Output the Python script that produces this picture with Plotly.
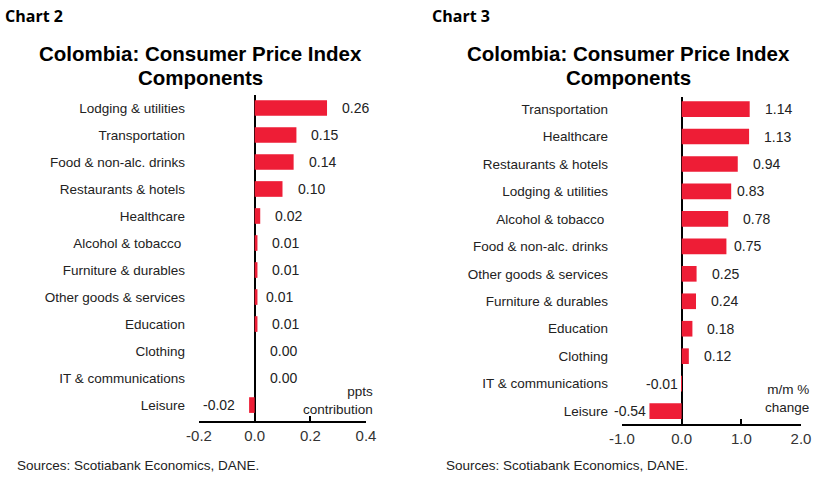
import plotly.graph_objects as go

# Chart 2: contribution (ppts)
cats_contrib = ["Lodging & utilities", "Transportation", "Food & non-alc. drinks",
                "Restaurants & hotels", "Healthcare", "Alcohol & tobacco ",
                "Furniture & durables", "Other goods & services", "Education",
                "Clothing", "IT & communications", "Leisure"]
vals_contrib = [0.26, 0.15, 0.14, 0.10, 0.02, 0.01, 0.01, 0.01, 0.01, 0.00, 0.00, -0.02]
ticks_contrib = [-0.2, 0.0, 0.2, 0.4]

# Chart 3: m/m % change
cats_mm = ["Transportation", "Healthcare", "Restaurants & hotels", "Lodging & utilities",
           "Alcohol & tobacco ", "Food & non-alc. drinks", "Other goods & services",
           "Furniture & durables", "Education", "Clothing", "IT & communications", "Leisure"]
vals_mm = [1.14, 1.13, 0.94, 0.83, 0.78, 0.75, 0.25, 0.24, 0.18, 0.12, -0.01, -0.54]
ticks_mm = [-1.0, 0.0, 1.0, 2.0]

RED = "#EE1D36"
FONT = "Liberation Sans"
W, H = 828, 482


def px(x):
    return x / W


def py(y):
    return 1 - y / H


fig = go.Figure()

fig.add_trace(go.Bar(x=vals_contrib, y=cats_contrib, orientation="h", width=0.58,
                     marker=dict(color=RED, line=dict(width=0)),
                     xaxis="x", yaxis="y", showlegend=False, hoverinfo="skip"))
fig.add_trace(go.Bar(x=vals_mm, y=cats_mm, orientation="h", width=0.57,
                     marker=dict(color=RED, line=dict(width=0)),
                     xaxis="x2", yaxis="y2", showlegend=False, hoverinfo="skip"))


def xax(dom, rng, ticks, anchor):
    return dict(domain=dom, range=rng, anchor=anchor, tickvals=ticks,
                ticktext=["%.1f" % t for t in ticks], automargin=False,
                showline=True, linecolor="black", linewidth=2,
                ticks="inside", ticklen=5, tickwidth=2, tickcolor="black",
                showgrid=False, zeroline=True, zerolinecolor="black", zerolinewidth=2,
                tickfont=dict(family=FONT, size=15, color="#333333"), fixedrange=True)


def yax(dom, rng, anchor):
    return dict(domain=dom, range=rng, anchor=anchor, showgrid=False, showline=False,
                ticks="", ticklabelstandoff=13, zeroline=False, automargin=False,
                tickfont=dict(family=FONT, size=13.5, color="#222222"), fixedrange=True)


fig.update_layout(
    width=W, height=H, margin=dict(l=0, r=0, t=0, b=0, pad=0, autoexpand=False),
    plot_bgcolor="white", paper_bgcolor="white",
    xaxis=xax([px(199), px(366)], [-0.2, 0.4], ticks_contrib, "y"),
    yaxis=yax([py(421), py(95)], [11.59, -0.48], "x"),
    xaxis2=xax([px(622), px(801)], [-1.0, 2.0], ticks_mm, "y2"),
    yaxis2=yax([py(424), py(97)], [11.47, -0.44], "x2"),
)

ann = []


def labels(cats, vals, xref, yref, pos_gap, neg_gap, overrides):
    for i, (c, v) in enumerate(zip(cats, vals)):
        neg = v < 0
        shift = overrides.get(i, -neg_gap if neg else pos_gap)
        ann.append(dict(x=v, y=c, xref=xref, yref=yref, text="%.2f" % v,
                        showarrow=False, xanchor="right" if neg else "left",
                        xshift=shift, font=dict(family=FONT, size=14, color="#222222")))


labels(cats_contrib, vals_contrib, "x", "y", 13, 12, {7: 7})
labels(cats_mm, vals_mm, "x2", "y2", 13, 1, {3: 4, 5: 6})

# headers, titles, units, sources
for cx in [200, 628]:
    ann.append(dict(x=px(cx), y=py(53), xref="paper", yref="paper",
                    text="<b>Colombia: Consumer Price Index</b>", showarrow=False,
                    xanchor="center", yanchor="middle",
                    font=dict(family=FONT, size=20.5, color="black")))
    ann.append(dict(x=px(cx), y=py(77), xref="paper", yref="paper",
                    text="<b>Components</b>", showarrow=False,
                    xanchor="center", yanchor="middle",
                    font=dict(family=FONT, size=20.5, color="black")))

for hx, name in [(3, "Chart 2"), (430, "Chart 3")]:
    ann.append(dict(x=px(hx), y=py(16), xref="paper", yref="paper", text="<b>%s</b>" % name,
                    showarrow=False, xanchor="left", yanchor="middle",
                    font=dict(family="Open Sans", size=16, color="black")))

ann.append(dict(x=px(375), y=py(400), xref="paper", yref="paper",
                text="ppts<br>contribution", showarrow=False, xanchor="right",
                yanchor="middle", align="right",
                font=dict(family=FONT, size=13.5, color="#222222")))
ann.append(dict(x=px(811), y=py(398), xref="paper", yref="paper",
                text="m/m %<br>change", showarrow=False, xanchor="right",
                yanchor="middle", align="right",
                font=dict(family=FONT, size=13.5, color="#222222")))

for sx in [15, 444]:
    ann.append(dict(x=px(sx), y=py(465), xref="paper", yref="paper",
                    text="Sources: Scotiabank Economics, DANE.", showarrow=False,
                    xanchor="left", yanchor="middle",
                    font=dict(family=FONT, size=13.5, color="#222222")))

fig.update_layout(annotations=ann)

# drop the default 8px body margin so the figure fills the window
fig.write_html("out.html", config={"displayModeBar": False},
               post_script="document.body.style.margin = '0';")
